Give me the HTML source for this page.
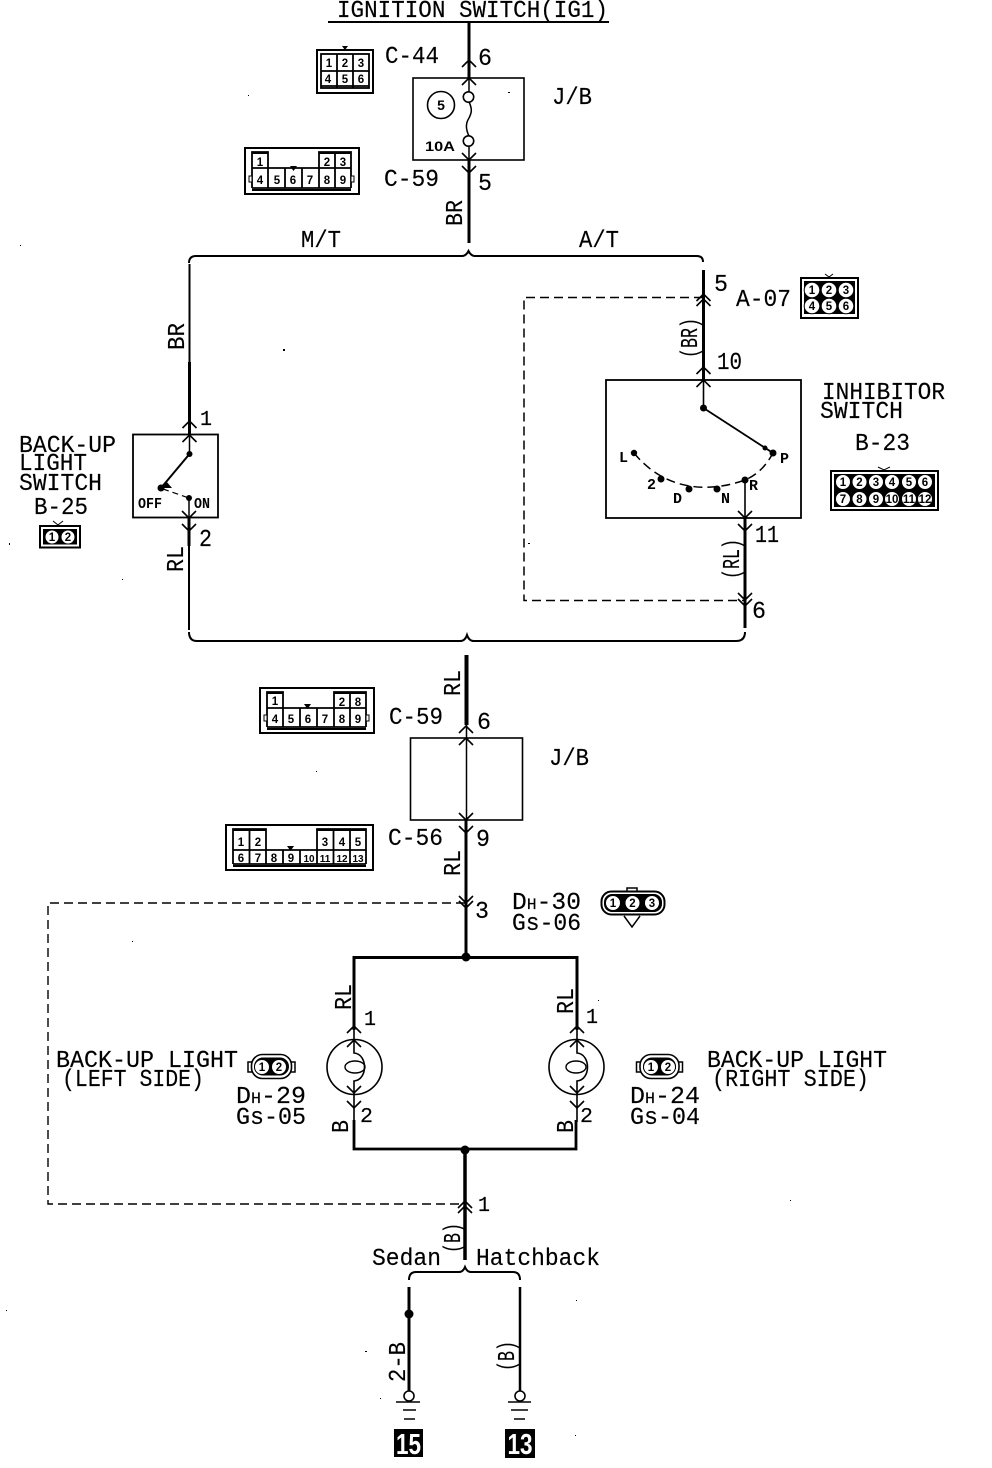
<!DOCTYPE html>
<html><head><meta charset="utf-8">
<style>
html,body{margin:0;padding:0;background:#fff}
svg{display:block}
text{font-family:"Liberation Mono",monospace;fill:#000;stroke:none}
.l{font-size:24px;stroke:#000;stroke-width:.15px}
.n{font-size:21px}
.s{font-family:"Liberation Sans",sans-serif;font-size:11.500px;font-weight:bold;text-anchor:middle}
.m{font-size:15px;font-weight:bold}
.w{fill:none;stroke:#000;stroke-linecap:butt}
.c{fill:none;stroke:#000;stroke-width:1.800}
.h{font-size:16px}
</style></head><body>
<svg xmlns="http://www.w3.org/2000/svg" width="992" height="1468" viewBox="0 0 992 1468">
<defs>
<path id="u" d="M-7 7L0 0L7 7" fill="none" stroke="#000" stroke-width="1.600"/>
<path id="d" d="M-7 -7L0 0L7 -7" fill="none" stroke="#000" stroke-width="1.600"/>
</defs>
<rect width="992" height="1468" fill="#fff"/>

<!-- top -->
<text class="l" x="337" y="17" textLength="271" lengthAdjust="spacingAndGlyphs">IGNITION SWITCH(IG1)</text>
<path class="w" stroke-width="2" d="M328 22H609"/>
<path class="w" stroke-width="3" d="M469 22V78"/>
<path class="w" stroke-width="1.500" d="M469 78V92M469 146V160"/>
<use href="#u" x="469" y="60"/><use href="#u" x="469" y="78"/>
<rect x="413" y="78" width="111" height="82" fill="none" stroke="#000" stroke-width="1.600"/>
<circle cx="468.500" cy="97" r="5.200" fill="#fff" stroke="#000" stroke-width="1.600"/>
<circle cx="468.500" cy="141" r="5.200" fill="#fff" stroke="#000" stroke-width="1.600"/>
<path class="w" stroke-width="1.500" d="M469 102C473 110 471 114 469 118C465 124 466 130 469 136"/>
<circle cx="441" cy="105" r="13.500" fill="none" stroke="#000" stroke-width="1.600"/>
<text class="s" x="441" y="110" style="font-size:14px">5</text>
<text class="s" x="440" y="151" style="font-size:14px" textLength="30" lengthAdjust="spacingAndGlyphs">10A</text>
<use href="#d" x="469" y="160"/><use href="#d" x="469" y="173"/>
<path class="w" stroke-width="3" d="M469 160V243"/>
<text class="l" x="478" y="65" textLength="14" lengthAdjust="spacingAndGlyphs">6</text>
<text class="l" x="385" y="63" textLength="54" lengthAdjust="spacingAndGlyphs">C-44</text>
<text class="l" x="552" y="104" textLength="40" lengthAdjust="spacingAndGlyphs">J/B</text>
<text class="l" x="384" y="186" textLength="55" lengthAdjust="spacingAndGlyphs">C-59</text>
<text class="l" x="478" y="190" textLength="14" lengthAdjust="spacingAndGlyphs">5</text>
<text class="l" transform="translate(462,226) rotate(-90)" textLength="26" lengthAdjust="spacingAndGlyphs">BR</text>

<!-- C-44 conn -->
<rect x="317" y="50" width="56" height="43" class="c" style="stroke-width:2"/>
<rect x="321" y="54" width="48" height="34" class="c"/>
<path class="c" d="M321 71H369M337 54V88M353 54V88M321 86H369"/>
<path d="M342 46H348L345 50Z" fill="#000"/>
<text class="s" x="329" y="67">1</text><text class="s" x="345" y="67">2</text><text class="s" x="361" y="67">3</text>
<text class="s" x="328" y="83">4</text><text class="s" x="345" y="83">5</text><text class="s" x="361" y="83">6</text>

<!-- C-59 top conn -->
<rect x="245" y="148" width="114" height="46" class="c" style="stroke-width:2"/>
<path class="c" d="M252 188V152H268V168M319 168V152H351V188M252 168H268M319 168H351M252 188H351M335 152V188M268 168V188M285 168V188M302 168V188M319 168V188M252 168H351"/>
<path class="w" stroke-width="2" d="M252 153H268M319 153H351M252 190H351"/>
<path d="M290 166H297L293.500 171Z" fill="#000"/>
<rect x="249" y="176" width="3" height="6" fill="#fff" stroke="#000"/><rect x="351" y="176" width="3" height="6" fill="#fff" stroke="#000"/>
<text class="s" x="260" y="166">1</text><text class="s" x="327" y="166">2</text><text class="s" x="343" y="166">3</text>
<text class="s" x="260" y="184">4</text><text class="s" x="277" y="184">5</text><text class="s" x="293" y="184">6</text><text class="s" x="310" y="184">7</text><text class="s" x="327" y="184">8</text><text class="s" x="343" y="184">9</text>

<!-- M/T A/T split -->
<text class="l" x="301" y="247" textLength="40" lengthAdjust="spacingAndGlyphs">M/T</text>
<text class="l" x="579" y="247" textLength="40" lengthAdjust="spacingAndGlyphs">A/T</text>
<path class="w" stroke-width="2" d="M189 263Q189 256 196 256H462Q466 256 468.500 251Q471 256 475 256H697Q703 256 703 262"/>

<!-- left switch -->
<path class="w" stroke-width="2" d="M189.500 264V362"/>
<path class="w" stroke-width="3" d="M189.500 362V434"/>
<path class="w" stroke-width="1.500" d="M189.500 434V454"/>
<use href="#u" x="189.500" y="421"/><use href="#u" x="189.500" y="435"/>
<text class="l" transform="translate(184,350) rotate(-90)" textLength="27" lengthAdjust="spacingAndGlyphs">BR</text>
<text class="l n" x="200" y="425" textLength="12" lengthAdjust="spacingAndGlyphs">1</text>
<rect x="133" y="434.500" width="85" height="83" fill="none" stroke="#000" stroke-width="1.800"/>
<circle cx="189.500" cy="454" r="3" fill="#000"/>
<circle cx="161" cy="488" r="3.500" fill="#000"/>
<circle cx="189" cy="498" r="3" fill="#000"/>
<path class="w" stroke-width="2" d="M189.500 454L161 488"/>
<path d="M161 488L172 488L166 481Z" fill="#000"/>
<path class="w" stroke-width="1.200" stroke-dasharray="6 4" d="M163 489L189 498"/>
<path class="w" stroke-width="1.500" d="M189 498V518"/>
<text class="m" x="138" y="508" textLength="24" lengthAdjust="spacingAndGlyphs">OFF</text>
<text class="m" x="194" y="508" textLength="16" lengthAdjust="spacingAndGlyphs">ON</text>
<use href="#d" x="189" y="518"/><use href="#d" x="189" y="531"/>
<path class="w" stroke-width="3" d="M189 518V546"/>
<path class="w" stroke-width="2" d="M189 546V630"/>
<text class="l" x="199" y="546" textLength="13" lengthAdjust="spacingAndGlyphs">2</text>
<text class="l" transform="translate(183,572) rotate(-90)" textLength="26" lengthAdjust="spacingAndGlyphs">RL</text>
<text class="l" x="19" y="452" textLength="97" lengthAdjust="spacingAndGlyphs">BACK-UP</text>
<text class="l" x="19" y="470" textLength="68" lengthAdjust="spacingAndGlyphs">LIGHT</text>
<text class="l" x="19" y="490" textLength="83" lengthAdjust="spacingAndGlyphs">SWITCH</text>
<text class="l" x="34" y="514" textLength="54" lengthAdjust="spacingAndGlyphs">B-25</text>
<rect x="40" y="526" width="40" height="21.500" fill="none" stroke="#000" stroke-width="2"/>
<rect x="43" y="529" width="34" height="15.500" fill="#000"/>
<circle cx="52" cy="537" r="7" fill="#fff" stroke="#000"/><circle cx="68" cy="537" r="7" fill="#fff" stroke="#000"/>
<path d="M53 521L58 525L63 521" fill="none" stroke="#000"/>
<text class="s" x="52" y="541">1</text><text class="s" x="68" y="541">2</text>

<!-- right -->
<path class="w" stroke-width="3" d="M703.500 270V380"/>
<path class="w" stroke-width="1.600" d="M703.500 380V408"/>
<use href="#u" x="703.500" y="294"/><use href="#u" x="703.500" y="299"/>
<use href="#u" x="703.500" y="367"/><use href="#u" x="703.500" y="380"/>
<path class="w" stroke-width="1.500" stroke-dasharray="9 5" d="M703 297.500H524V600.500H745"/>
<text class="l" x="714" y="291" textLength="14" lengthAdjust="spacingAndGlyphs">5</text>
<text class="l" x="736" y="306" textLength="55" lengthAdjust="spacingAndGlyphs">A-07</text>
<text class="l" x="717" y="369" textLength="25" lengthAdjust="spacingAndGlyphs">10</text>
<text class="l" transform="translate(697,358) rotate(-90)" textLength="40" lengthAdjust="spacingAndGlyphs">(BR)</text>
<!-- A-07 conn -->
<rect x="801" y="278" width="57" height="40" fill="none" stroke="#000" stroke-width="2"/>
<rect x="804" y="281" width="51" height="33" fill="#000"/>
<g fill="#fff" stroke="#000"><circle cx="812" cy="290" r="7.800"/><circle cx="829" cy="290" r="7.800"/><circle cx="846" cy="290" r="7.800"/><circle cx="812" cy="306" r="7.800"/><circle cx="829" cy="306" r="7.800"/><circle cx="846" cy="306" r="7.800"/></g>
<path d="M825 274L829 277L833 274" fill="none" stroke="#000"/>
<text class="s" x="812" y="294">1</text><text class="s" x="829" y="294">2</text><text class="s" x="846" y="294">3</text><text class="s" x="812" y="310">4</text><text class="s" x="829" y="310">5</text><text class="s" x="846" y="310">6</text>
<!-- inhibitor -->
<rect x="606" y="380" width="195" height="138" fill="none" stroke="#000" stroke-width="1.800"/>
<circle cx="703.500" cy="408" r="3.500" fill="#000"/>
<path class="w" stroke-width="1.800" d="M703.500 408L773 453"/>
<circle cx="773" cy="453" r="3.500" fill="#000"/><circle cx="765" cy="448" r="2.500" fill="#000"/>
<path class="w" stroke-width="1.500" stroke-dasharray="9 5" d="M634 453C660 485 700 496 745 480C757 475 766 466 773 453"/>
<g fill="#000"><circle cx="634" cy="453" r="3.200"/><circle cx="661" cy="479" r="3.500"/><circle cx="689" cy="489" r="3.500"/><circle cx="717" cy="489" r="3.500"/><circle cx="745" cy="480" r="3.500"/></g>
<text class="m" x="619" y="462">L</text><text class="m" x="647" y="489">2</text><text class="m" x="673" y="503">D</text><text class="m" x="721" y="503">N</text><text class="m" x="749" y="490">R</text><text class="m" x="780" y="463">P</text>
<path class="w" stroke-width="1.600" d="M745 480V518"/>
<use href="#d" x="745" y="518"/><use href="#d" x="745" y="531"/>
<path class="w" stroke-width="3" d="M745 518V628"/>
<use href="#d" x="745" y="600"/><use href="#d" x="745" y="606"/>
<text class="l" x="755" y="542" textLength="24" lengthAdjust="spacingAndGlyphs">11</text>
<text class="l" x="752" y="618" textLength="14" lengthAdjust="spacingAndGlyphs">6</text>
<text class="l" transform="translate(739,579) rotate(-90)" textLength="40" lengthAdjust="spacingAndGlyphs">(RL)</text>
<text class="l" x="822" y="399" textLength="123" lengthAdjust="spacingAndGlyphs">INHIBITOR</text>
<text class="l" x="820" y="418" textLength="83" lengthAdjust="spacingAndGlyphs">SWITCH</text>
<text class="l" x="855" y="450" textLength="55" lengthAdjust="spacingAndGlyphs">B-23</text>
<!-- B-23 -->
<rect x="831" y="471" width="107" height="39" fill="none" stroke="#000" stroke-width="2"/>
<rect x="834" y="474" width="101" height="33" fill="#000"/>
<g fill="#fff" stroke="#000"><circle cx="843" cy="482" r="7.500"/><circle cx="859.500" cy="482" r="7.500"/><circle cx="876" cy="482" r="7.500"/><circle cx="892" cy="482" r="7.500"/><circle cx="909" cy="482" r="7.500"/><circle cx="925" cy="482" r="7.500"/><circle cx="843" cy="499" r="7.500"/><circle cx="859.500" cy="499" r="7.500"/><circle cx="876" cy="499" r="7.500"/><circle cx="892" cy="499" r="7.500"/><circle cx="909" cy="499" r="7.500"/><circle cx="925" cy="499" r="7.500"/></g>
<path d="M878 467L884 470L890 467" fill="none" stroke="#000"/>
<text class="s" x="843" y="486">1</text><text class="s" x="859.500" y="486">2</text><text class="s" x="876" y="486">3</text><text class="s" x="892" y="486">4</text><text class="s" x="909" y="486">5</text><text class="s" x="925" y="486">6</text>
<text class="s" x="843" y="503">7</text><text class="s" x="859.500" y="503">8</text><text class="s" x="876" y="503">9</text><text class="s" x="892" y="503">10</text><text class="s" x="909" y="503">11</text><text class="s" x="925" y="503">12</text>

<!-- merge -->
<path class="w" stroke-width="2" d="M189 632Q189 641 197 641H460Q465 641 467 635Q469 641 474 641H736Q745 641 745 632"/>
<path class="w" stroke-width="4" d="M466.500 655V725"/>
<path class="w" stroke-width="1.500" d="M466.500 725V820"/>
<use href="#u" x="466" y="726"/><use href="#u" x="466" y="738"/>
<text class="l" transform="translate(460,696) rotate(-90)" textLength="26" lengthAdjust="spacingAndGlyphs">RL</text>
<text class="l" x="477" y="729" textLength="14" lengthAdjust="spacingAndGlyphs">6</text>
<text class="l" x="389" y="724" textLength="54" lengthAdjust="spacingAndGlyphs">C-59</text>
<text class="l" x="549" y="765" textLength="40" lengthAdjust="spacingAndGlyphs">J/B</text>
<rect x="410.500" y="738" width="112" height="82" fill="none" stroke="#000" stroke-width="1.600"/>
<!-- C-59 second -->
<rect x="260" y="688" width="114" height="45" class="c" style="stroke-width:2"/>
<path class="c" d="M267 727V692H283V708M334 708V692H366V727M267 708H283M334 708H366M267 727H366M350 692V727M283 708V727M300 708V727M317 708V727M334 708V727M267 708H366"/>
<path class="w" stroke-width="2" d="M267 693H283M334 693H366M267 729H366"/>
<path d="M304 704H311L307.500 709Z" fill="#000"/>
<rect x="264" y="715" width="3" height="6" fill="#fff" stroke="#000"/><rect x="366" y="715" width="3" height="6" fill="#fff" stroke="#000"/>
<text class="s" x="275" y="705">1</text><text class="s" x="342" y="706">2</text><text class="s" x="358" y="706">8</text>
<text class="s" x="275" y="723">4</text><text class="s" x="291" y="723">5</text><text class="s" x="308" y="723">6</text><text class="s" x="325" y="723">7</text><text class="s" x="342" y="723">8</text><text class="s" x="358" y="723">9</text>
<!-- C-56 -->
<use href="#d" x="466" y="820"/><use href="#d" x="466" y="833"/>
<path class="w" stroke-width="3" d="M466 820V957"/>
<text class="l" x="476" y="846" textLength="14" lengthAdjust="spacingAndGlyphs">9</text>
<text class="l" x="388" y="845" textLength="55" lengthAdjust="spacingAndGlyphs">C-56</text>
<text class="l" transform="translate(460,876) rotate(-90)" textLength="26" lengthAdjust="spacingAndGlyphs">RL</text>
<rect x="226" y="825" width="147" height="45" class="c" style="stroke-width:2"/>
<path class="c" d="M233 850V829H266V850M317 850V829H366V850M233 850H366M233 864V850M233 864H366M366 864V850M249.500 829V864M266 850V864M283 850V864M300 850V864M317 850V864M333.500 829V864M350 829V864"/>
<path class="w" stroke-width="2" d="M233 830H266M317 830H366M233 866H366"/>
<path d="M287 846H294L290.500 851Z" fill="#000"/>
<text class="s" x="241" y="846">1</text><text class="s" x="258" y="846">2</text><text class="s" x="325" y="846">3</text><text class="s" x="342" y="846">4</text><text class="s" x="358" y="846">5</text>
<text class="s" x="241" y="862">6</text><text class="s" x="258" y="862">7</text><text class="s" x="274" y="862">8</text><text class="s" x="291" y="862">9</text><text class="s" x="309" y="862" style="font-size:10px">10</text><text class="s" x="325" y="862" style="font-size:10px">11</text><text class="s" x="342" y="862" style="font-size:10px">12</text><text class="s" x="358" y="862" style="font-size:10px">13</text>

<!-- dashed left -->
<path class="w" stroke-width="1.400" stroke-dasharray="9 5" d="M465 903H48V1204H465"/>
<use href="#d" x="466" y="903"/><use href="#d" x="466" y="908"/>
<text class="l" x="475" y="918" textLength="14" lengthAdjust="spacingAndGlyphs">3</text>
<text class="l" x="512" y="909" textLength="69" lengthAdjust="spacingAndGlyphs">D<tspan class="h">H</tspan>-30</text>
<text class="l" x="512" y="930" textLength="69" lengthAdjust="spacingAndGlyphs">Gs-06</text>
<!-- Dh-30 -->
<rect x="601.500" y="891.500" width="63" height="23" rx="10" fill="#fff" stroke="#000" stroke-width="2"/>
<rect x="604" y="894" width="58" height="18" rx="8" fill="#000"/>
<g fill="#fff" stroke="#000"><circle cx="613" cy="903" r="7.500"/><circle cx="632.500" cy="903" r="7.500"/><circle cx="652" cy="903" r="7.500"/></g>
<path d="M624 916L632 927L640 916" fill="none" stroke="#000" stroke-width="1.500"/>
<path d="M627 891V888H637V891" fill="none" stroke="#000" stroke-width="1.500"/>
<text class="s" x="613" y="907">1</text><text class="s" x="632.500" y="907">2</text><text class="s" x="652" y="907">3</text>

<!-- bulbs -->
<circle cx="466" cy="957" r="4.500" fill="#000"/>
<path class="w" stroke-width="3" d="M354 1030V957.500H577V1030"/>
<circle cx="465" cy="1150" r="4.500" fill="#000"/>
<path class="w" stroke-width="2.800" d="M354 1120V1149H576V1120"/>
<path class="w" stroke-width="3.500" d="M465 1150V1260"/>
<circle cx="354.500" cy="1067" r="27.500" fill="none" stroke="#000" stroke-width="1.600"/>
<ellipse cx="355" cy="1067" rx="10" ry="6" fill="none" stroke="#000" stroke-width="1.400"/>
<path class="w" stroke-width="1.600" d="M354 1028V1053C368 1054 368 1080 354 1081V1122"/>
<use href="#u" x="354" y="1026"/><use href="#u" x="354" y="1040"/><use href="#d" x="354" y="1093"/><use href="#d" x="354" y="1108"/>
<circle cx="576.500" cy="1067" r="27.500" fill="none" stroke="#000" stroke-width="1.600"/>
<ellipse cx="576" cy="1067" rx="10" ry="6" fill="none" stroke="#000" stroke-width="1.400"/>
<path class="w" stroke-width="1.600" d="M577 1028V1053C591 1054 591 1080 577 1081V1122"/>
<use href="#u" x="577" y="1026"/><use href="#u" x="577" y="1040"/><use href="#d" x="577" y="1093"/><use href="#d" x="577" y="1108"/>
<text class="l" transform="translate(351,1010) rotate(-90)" textLength="26" lengthAdjust="spacingAndGlyphs">RL</text>
<text class="l" transform="translate(573,1014) rotate(-90)" textLength="26" lengthAdjust="spacingAndGlyphs">RL</text>
<text class="l n" x="364" y="1025" textLength="12" lengthAdjust="spacingAndGlyphs">1</text>
<text class="l n" x="586" y="1023" textLength="12" lengthAdjust="spacingAndGlyphs">1</text>
<text class="l n" x="360" y="1122" textLength="13" lengthAdjust="spacingAndGlyphs">2</text>
<text class="l n" x="580" y="1122" textLength="13" lengthAdjust="spacingAndGlyphs">2</text>
<text class="l" transform="translate(348,1133) rotate(-90)" textLength="13" lengthAdjust="spacingAndGlyphs">B</text>
<text class="l" transform="translate(573,1133) rotate(-90)" textLength="13" lengthAdjust="spacingAndGlyphs">B</text>
<text class="l" x="56" y="1067" textLength="182" lengthAdjust="spacingAndGlyphs">BACK-UP LIGHT</text>
<text class="l" x="62" y="1086" textLength="142" lengthAdjust="spacingAndGlyphs">(LEFT SIDE)</text>
<text class="l" x="236" y="1103" textLength="70" lengthAdjust="spacingAndGlyphs">D<tspan class="h">H</tspan>-29</text>
<text class="l" x="236" y="1124" textLength="70" lengthAdjust="spacingAndGlyphs">Gs-05</text>
<text class="l" x="707" y="1067" textLength="180" lengthAdjust="spacingAndGlyphs">BACK-UP LIGHT</text>
<text class="l" x="712" y="1086" textLength="157" lengthAdjust="spacingAndGlyphs">(RIGHT SIDE)</text>
<text class="l" x="630" y="1103" textLength="70" lengthAdjust="spacingAndGlyphs">D<tspan class="h">H</tspan>-24</text>
<text class="l" x="630" y="1124" textLength="70" lengthAdjust="spacingAndGlyphs">Gs-04</text>
<!-- Dh-29 conn -->
<rect x="248" y="1062" width="47" height="10" fill="#fff" stroke="#000" stroke-width="1.500"/>
<rect x="251.500" y="1054.500" width="40" height="24" rx="11" fill="#fff" stroke="#000" stroke-width="1.600"/>
<rect x="254" y="1057.500" width="35" height="18" rx="9" fill="#000"/>
<g fill="#fff" stroke="#000"><circle cx="262" cy="1067" r="7.500"/><circle cx="279" cy="1067" r="7.500"/></g>
<text class="s" x="262" y="1071">1</text><text class="s" x="279" y="1071">2</text>
<!-- Dh-24 conn -->
<rect x="636.500" y="1062" width="46" height="10" fill="#fff" stroke="#000" stroke-width="1.500"/>
<rect x="640" y="1054.500" width="39" height="24" rx="11" fill="#fff" stroke="#000" stroke-width="1.600"/>
<rect x="643" y="1057.500" width="33" height="18" rx="9" fill="#000"/>
<g fill="#fff" stroke="#000"><circle cx="651" cy="1067" r="7.500"/><circle cx="668" cy="1067" r="7.500"/></g>
<text class="s" x="651" y="1071">1</text><text class="s" x="668" y="1071">2</text>

<!-- bottom -->
<use href="#u" x="465" y="1201"/><use href="#u" x="465" y="1206"/>
<text class="l n" x="478" y="1211" textLength="12" lengthAdjust="spacingAndGlyphs">1</text>
<text class="l" transform="translate(460,1253) rotate(-90)" textLength="30" lengthAdjust="spacingAndGlyphs">(B)</text>
<text class="l" x="372" y="1265" textLength="69" lengthAdjust="spacingAndGlyphs">Sedan</text>
<text class="l" x="476" y="1265" textLength="124" lengthAdjust="spacingAndGlyphs">Hatchback</text>
<path class="w" stroke-width="2" d="M409 1280Q409 1272 416 1272H459Q463 1272 465 1267Q467 1272 471 1272H513Q520 1272 520 1280"/>
<path class="w" stroke-width="3" d="M409 1287V1392"/>
<path class="w" stroke-width="2.500" d="M520 1287V1392"/>
<circle cx="409" cy="1314" r="4.500" fill="#000"/>
<text class="l" transform="translate(405,1382) rotate(-90)" textLength="40" lengthAdjust="spacingAndGlyphs">2-B</text>
<text class="l" transform="translate(514,1371) rotate(-90)" textLength="30" lengthAdjust="spacingAndGlyphs">(B)</text>
<circle cx="409" cy="1396" r="5" fill="#fff" stroke="#000" stroke-width="1.600"/>
<circle cx="520" cy="1396" r="5" fill="#fff" stroke="#000" stroke-width="1.600"/>
<path class="w" stroke-width="1.500" d="M396 1402H420M403 1410H416M404 1419H415M508 1402H531M511 1410H528M514 1419H525"/>
<rect x="394" y="1429" width="29" height="28" fill="#000"/>
<rect x="505" y="1429" width="30" height="29" fill="#000"/>
<text x="408.500" y="1454" text-anchor="middle" style="font-family:'Liberation Sans',sans-serif;font-size:29px;font-weight:bold;fill:#fff" textLength="25" lengthAdjust="spacingAndGlyphs">15</text>
<text x="520" y="1454" text-anchor="middle" style="font-family:'Liberation Sans',sans-serif;font-size:29px;font-weight:bold;fill:#fff" textLength="25" lengthAdjust="spacingAndGlyphs">13</text>

<!-- specks -->
<g fill="#000">
<rect x="283" y="349" width="2" height="2"/><rect x="248" y="95" width="1" height="1"/><rect x="508" y="92" width="2" height="1"/>
<rect x="528" y="543" width="2" height="1"/><rect x="9" y="543" width="1" height="2"/><rect x="122" y="579" width="1" height="1"/>
<rect x="20" y="245" width="1" height="1"/><rect x="316" y="771" width="1" height="1"/><rect x="132" y="941" width="1" height="1"/>
<rect x="790" y="1200" width="1" height="1"/><rect x="598" y="1000" width="1" height="1"/>
<rect x="6" y="1310" width="1" height="1"/><rect x="576" y="1300" width="1" height="1"/>
<rect x="575" y="1435" width="1" height="1"/><rect x="380" y="1398" width="1" height="1"/><rect x="365" y="1351" width="2" height="1"/>
</g>
</svg>
</body></html>
